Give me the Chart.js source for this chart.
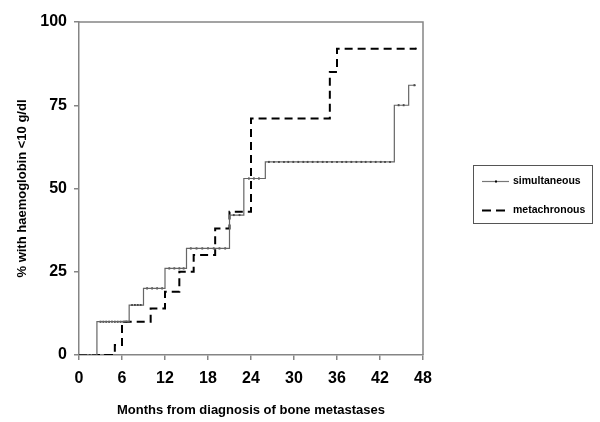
<!DOCTYPE html>
<html>
<head>
<meta charset="utf-8">
<script src="https://cdn.jsdelivr.net/npm/chart.js@4/dist/chart.umd.min.js"></script>
<style>
  html, body { margin: 0; padding: 0; background: #fff; }
</style>
</head>
<body>
<canvas id="kmChart" width="600" height="422"></canvas>
<script>
// cumulative % with haemoglobin < 10 g/dl (month, percent)
const simMonths = [0, 2.5, 7, 9, 12, 15, 21, 23, 26, 44, 46, 47];
const simPct = [0, 10, 15, 20, 26, 32, 42, 53, 58, 75, 81, 81];
const metaMonths = [0, 5, 6, 10, 12, 14, 16, 19, 21, 24, 35, 36, 47];
const metaPct = [0, 3, 10, 14, 19, 25, 30, 38, 43, 71, 85, 92, 92];

// censor marks on the simultaneous curve
const simCensorMonths = [0.3, 0.9, 1.5, 2.0,
  3.0, 3.4, 3.8, 4.2, 4.6, 5.0, 5.4, 5.8, 6.2, 6.6,
  7.4, 7.8, 8.2, 8.6,
  9.5, 10.2, 10.9, 11.6,
  12.6, 13.3, 14.0, 14.6,
  15.6, 16.4, 17.2, 18.0, 18.8, 19.6, 20.4,
  21.6, 22.4,
  23.7, 24.4, 25.1,
  26.5, 27.2, 27.9, 28.6, 29.2, 29.9, 30.6, 31.3, 31.9, 32.6, 33.3, 34.0, 34.6, 35.3,
  36.0, 36.7, 37.3, 38.0, 38.7, 39.4, 40.0, 40.7, 41.4, 42.1, 42.7, 43.4,
  44.6, 45.3,
  46.8];
const simCensorPct = [0, 0, 0, 0,
  10, 10, 10, 10, 10, 10, 10, 10, 10, 10,
  15, 15, 15, 15,
  20, 20, 20, 20,
  26, 26, 26, 26,
  32, 32, 32, 32, 32, 32, 32,
  42, 42,
  53, 53, 53,
  58, 58, 58, 58, 58, 58, 58, 58, 58, 58, 58, 58, 58, 58,
  58, 58, 58, 58, 58, 58, 58, 58, 58, 58, 58, 58,
  75, 75,
  81];
const metaCensorMonths = [3.6, 4.2, 47];
const metaCensorPct = [0, 0, 92];

const xTicks = [0, 6, 12, 18, 24, 30, 36, 42, 48];
const yTicks = [0, 25, 50, 75, 100];
const seriesNames = ['simultaneous', 'metachronous'];

const FONT = "'Liberation Sans', Arial, Helvetica, sans-serif";
const AXIS_GREY = '#858585';

const toPoints = (xs, ys) => xs.map((x, i) => ({ x: x, y: ys[i] }));

// box round the plot plus the framed legend on the right
const frameAndLegend = {
  id: 'frameAndLegend',
  afterDraw(chart) {
    const { ctx, chartArea } = chart;
    ctx.save();
    ctx.strokeStyle = AXIS_GREY;
    ctx.lineWidth = 1.5;
    ctx.beginPath();
    ctx.moveTo(chartArea.left, chartArea.top);
    ctx.lineTo(chartArea.right, chartArea.top);
    ctx.lineTo(chartArea.right, chartArea.bottom);
    ctx.stroke();

    // legend
    ctx.strokeStyle = '#555';
    ctx.lineWidth = 1;
    ctx.strokeRect(473.5, 165.5, 119, 58);

    ctx.strokeStyle = '#777';
    ctx.lineWidth = 1.2;
    ctx.beginPath();
    ctx.moveTo(482, 181.5);
    ctx.lineTo(509, 181.5);
    ctx.stroke();
    ctx.fillStyle = '#000';
    ctx.fillRect(495, 180.5, 2, 2);

    ctx.strokeStyle = '#000';
    ctx.lineWidth = 2;
    ctx.setLineDash([9, 5]);
    ctx.beginPath();
    ctx.moveTo(482, 210.5);
    ctx.lineTo(509, 210.5);
    ctx.stroke();
    ctx.setLineDash([]);

    ctx.fillStyle = '#000';
    ctx.font = 'bold 10.5px ' + FONT;
    ctx.textBaseline = 'middle';
    ctx.textAlign = 'left';
    ctx.fillText(seriesNames[0], 513, 181.5);
    ctx.fillText(seriesNames[1], 513, 210.5);
    ctx.restore();
  }
};

new Chart(document.getElementById('kmChart'), {
  type: 'line',
  data: {
    datasets: [
      {
        label: seriesNames[0],
        data: toPoints(simMonths, simPct),
        stepped: true,
        borderColor: '#666',
        borderWidth: 1.2,
        pointRadius: 0,
        fill: false
      },
      {
        label: seriesNames[0] + ' censored',
        type: 'scatter',
        data: toPoints(simCensorMonths, simCensorPct),
        showLine: false,
        pointStyle: 'rect',
        pointRadius: 1.3,
        backgroundColor: '#000',
        borderColor: '#000',
        borderWidth: 0
      },
      {
        label: seriesNames[1],
        data: toPoints(metaMonths, metaPct),
        stepped: true,
        borderColor: '#000',
        borderWidth: 2,
        borderDash: [8, 5],
        pointRadius: 0,
        fill: false
      },
      {
        label: seriesNames[1] + ' censored',
        type: 'scatter',
        data: toPoints(metaCensorMonths, metaCensorPct),
        showLine: false,
        pointStyle: 'rect',
        pointRadius: 1.3,
        backgroundColor: '#000',
        borderWidth: 0
      }
    ]
  },
  options: {
    responsive: false,
    animation: false,
    layout: { padding: { left: 0, top: 22, right: 177, bottom: 0 } },
    plugins: {
      legend: { display: false },
      tooltip: { enabled: false }
    },
    scales: {
      x: {
        type: 'linear',
        min: 0,
        max: 48,
        afterBuildTicks: (axis) => { axis.ticks = xTicks.map(v => ({ value: v })); },
        afterFit: (axis) => { axis.height = 67; },
        ticks: { padding: 9, color: '#000', font: { family: FONT, size: 16, weight: 'bold' } },
        grid: { drawOnChartArea: false, tickLength: 5, color: AXIS_GREY, lineWidth: 1.5 },
        border: { color: AXIS_GREY, width: 1.5 },
        title: {
          display: true,
          text: 'Months from diagnosis of bone metastases',
          color: '#000',
          padding: { top: 0, bottom: 4 },
          font: { family: FONT, size: 13, weight: 'bold' }
        }
      },
      y: {
        min: 0,
        max: 100,
        afterBuildTicks: (axis) => { axis.ticks = yTicks.map(v => ({ value: v })); },
        afterFit: (axis) => { axis.width = 79; },
        ticks: { padding: 7, color: '#000', font: { family: FONT, size: 16, weight: 'bold' } },
        grid: { drawOnChartArea: false, tickLength: 5, color: AXIS_GREY, lineWidth: 1.5 },
        border: { color: AXIS_GREY, width: 1.5 },
        title: {
          display: true,
          text: '% with haemoglobin <10 g/dl',
          color: '#000',
          padding: { top: 15, bottom: 0 },
          font: { family: FONT, size: 13, weight: 'bold' }
        }
      }
    }
  },
  plugins: [frameAndLegend]
});
</script>
</body>
</html>
